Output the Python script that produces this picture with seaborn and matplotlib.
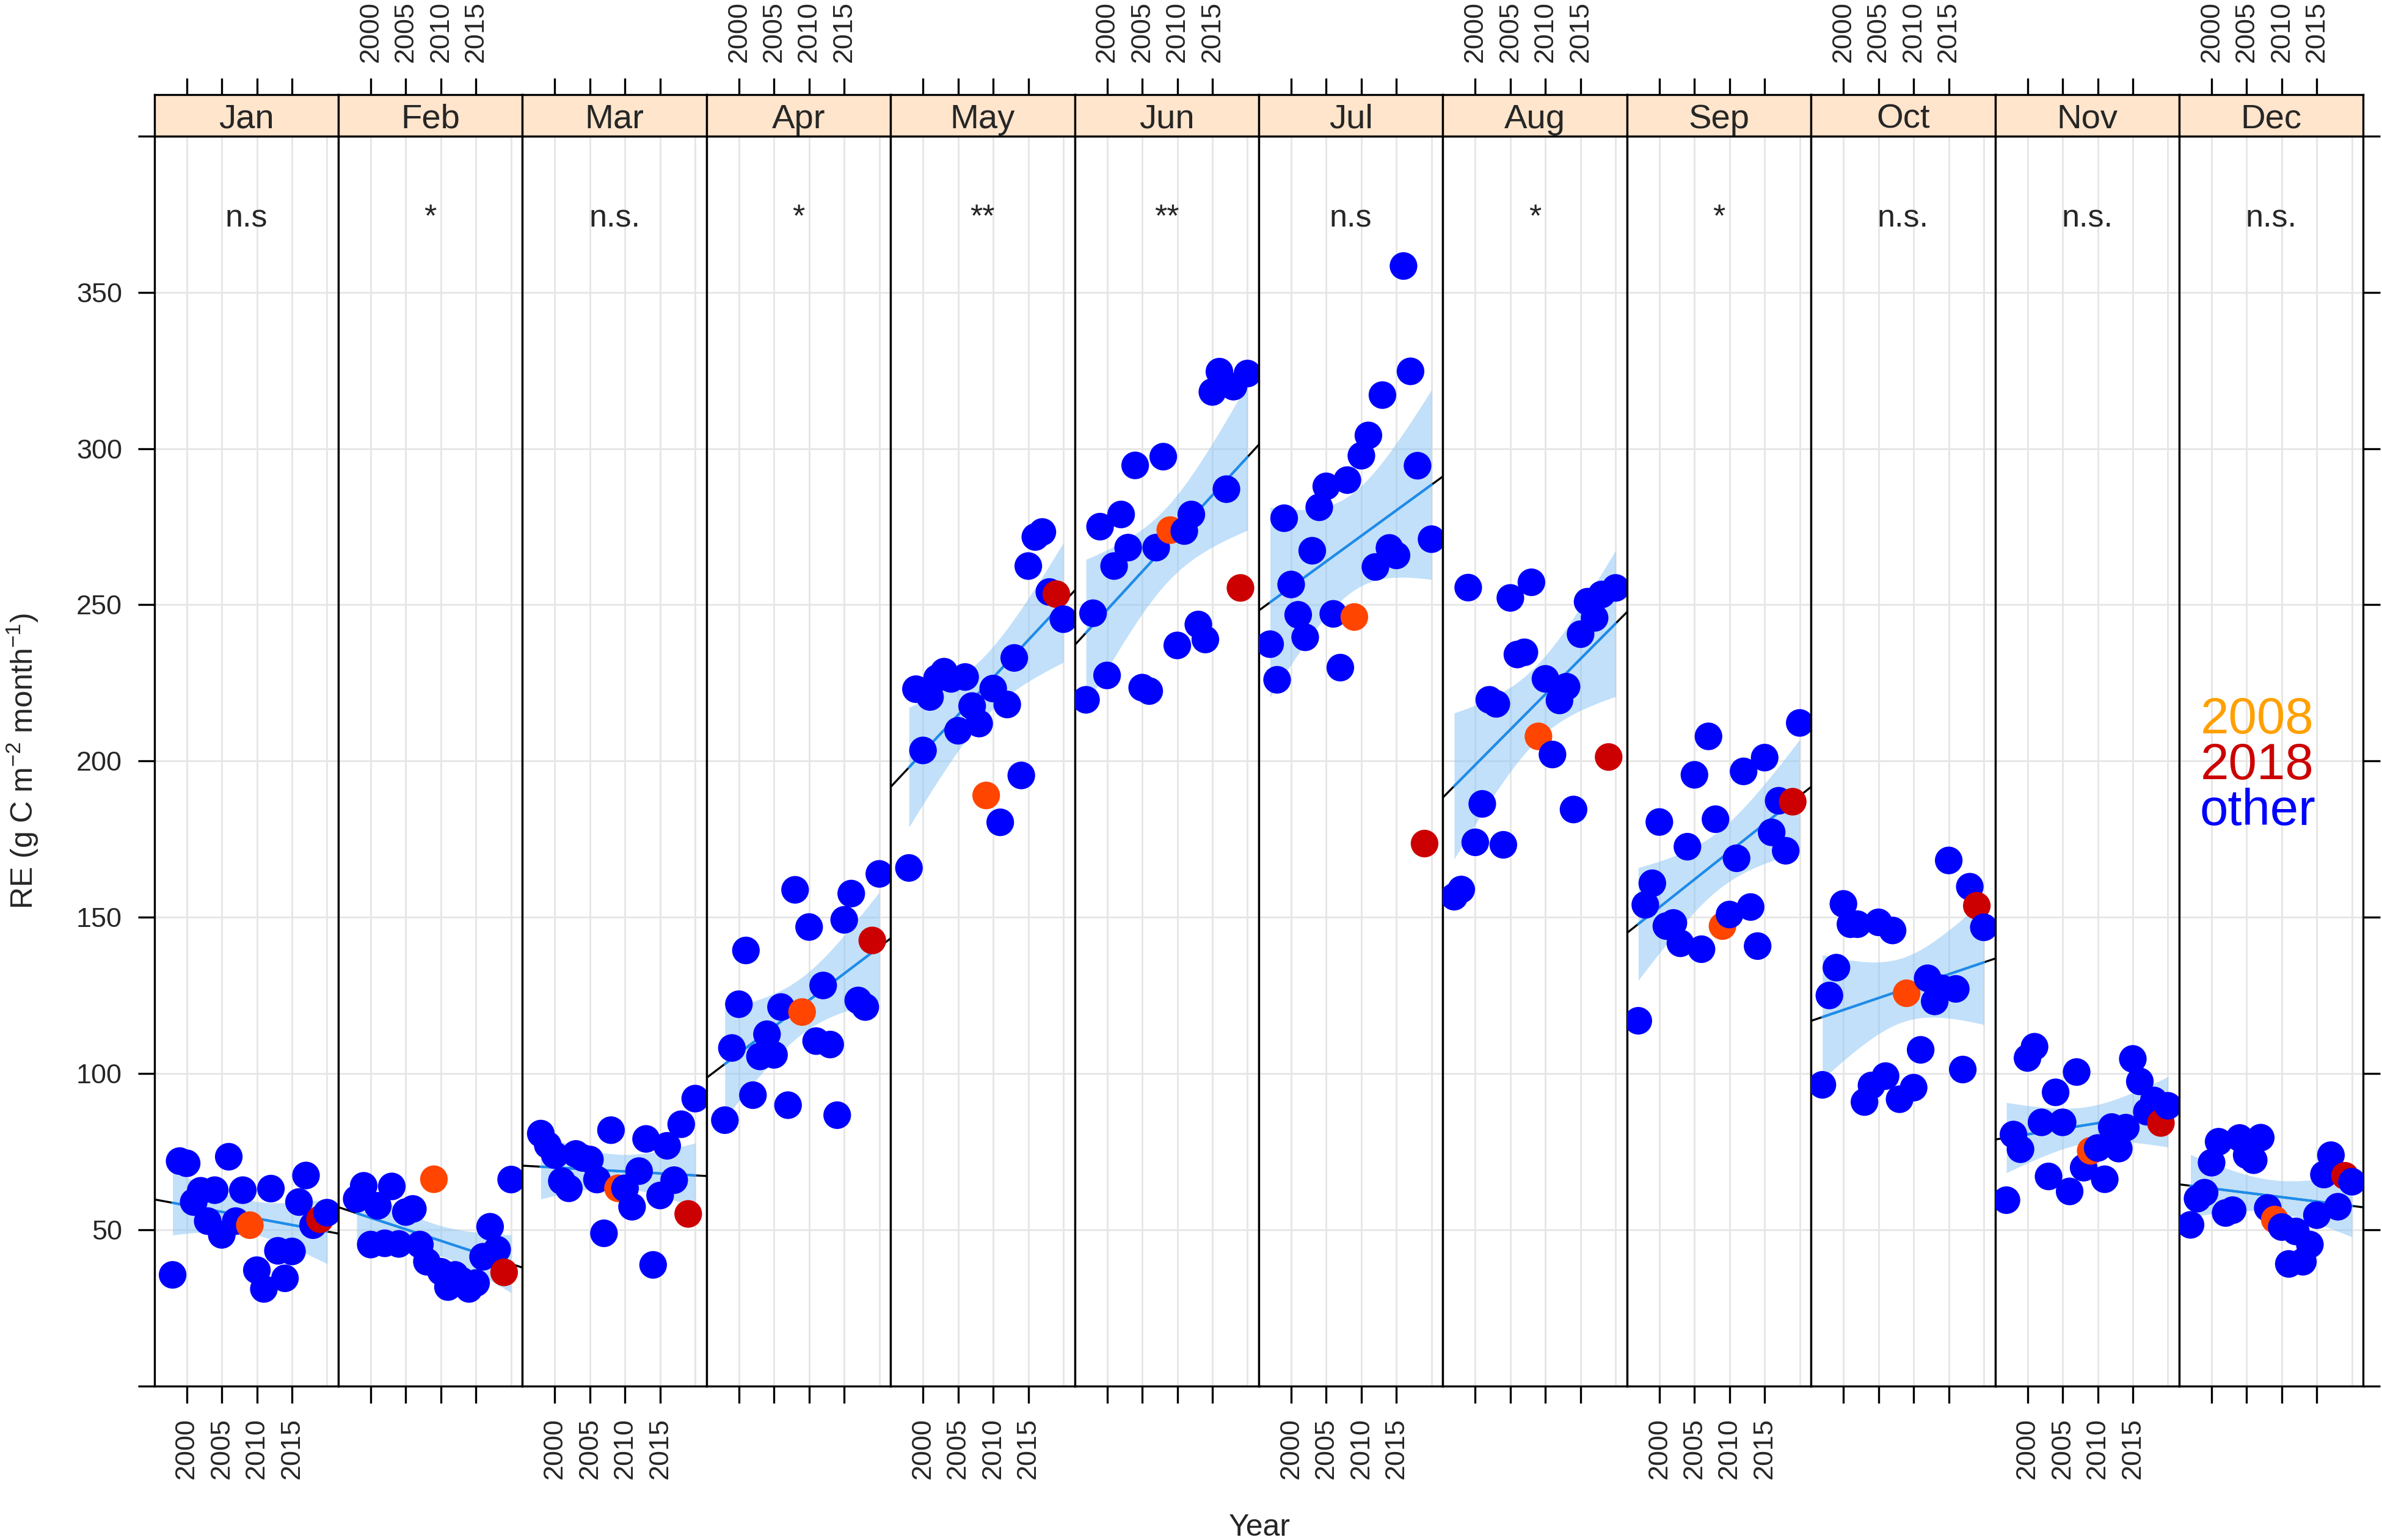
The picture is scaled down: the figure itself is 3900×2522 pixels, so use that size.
import numpy as np
import pandas as pd
import matplotlib
matplotlib.use("Agg")
import matplotlib.pyplot as plt
import seaborn as sns

# slot on the year axis for each value (source puts 2008 / 2018 one slot right)
years = np.arange(1997, 2021)
x_2008 = 2009
x_2018 = 2019

months = ["Jan", "Feb", "Mar", "Apr", "May", "Jun",
          "Jul", "Aug", "Sep", "Oct", "Nov", "Dec"]
signif = ["n.s", "*", "n.s.", "*", "**", "**",
          "n.s", "*", "*", "n.s.", "n.s.", "n.s."]

nan = np.nan
jan = [nan, 35.6, 72.0, 71.3, 58.9, 62.5, 52.8, 62.7, 48.4, 73.4, 52.8, 62.7,
       51.5, 37.1, 31.1, 63.2, 43.3, 34.5, 43.1, 58.9, 67.4, 51.5, 53.4, 55.5]
feb = [nan, 59.9, 64.1, 45.3, 57.7, 45.7, 63.9, 45.5, 55.7, 56.7, 45.3, 39.8,
       66.2, 36.6, 31.7, 35.6, 33.7, 31.1, 33.0, 41.4, 51.0, 43.7, 36.4, 66.1]
mar = [nan, 80.8, 77.1, 73.9, 65.6, 63.3, 74.3, 73.0, 72.5, 66.1, 48.9, 81.9,
       63.3, 63.3, 57.4, 68.8, 79.1, 38.8, 61.0, 76.9, 65.9, 83.8, 55.1, 92.0]
apr = [nan, 85.1, 108.2, 122.2, 139.4, 93.1, 105.5, 112.6, 106.0, 121.3, 89.9, 158.8,
       119.7, 146.9, 110.4, 128.2, 109.3, 86.7, 149.2, 157.6, 123.4, 121.3, 142.6, 163.9]
may = [nan, 165.8, 223.0, 203.4, 220.5, 226.5, 228.6, 226.3, 209.7, 226.9, 217.6, 212.0,
       189.0, 223.2, 180.4, 218.1, 233.0, 195.4, 262.4, 271.7, 273.3, 254.1, 253.4, 245.4]
jun = [219.6, 247.3, 275.0, 227.4, 262.4, 278.9, 268.3, 294.6, 223.5, 222.4, 268.3, 297.4,
       273.9, 237.0, 273.6, 278.9, 243.7, 238.9, 318.1, 324.6, 287.0, 319.8, 255.4, 324.0]
jul = [237.4, 226.0, 277.7, 256.5, 246.8, 239.6, 267.3, 281.2, 287.9, 247.1, 229.9, 289.9,
       246.1, 297.7, 304.2, 262.1, 317.1, 268.2, 265.8, 358.4, 324.7, 294.5, 173.6, 271.0]
aug = [156.6, 158.9, 255.5, 174.0, 186.3, 219.6, 218.3, 173.2, 252.2, 234.1, 234.8, 257.2,
       207.9, 226.3, 202.1, 219.4, 223.8, 184.5, 240.6, 251.0, 245.8, 253.3, 201.3, 255.4]
sep = [116.9, 154.0, 160.9, 180.5, 147.2, 148.2, 141.7, 172.6, 195.6, 139.8, 207.9, 181.4,
       147.2, 150.9, 168.9, 196.7, 153.3, 140.8, 201.1, 177.2, 187.3, 171.3, 187.0, 212.2]
octo = [96.4, 125.0, 133.9, 154.3, 147.8, 147.8, 90.9, 96.2, 148.4, 99.2, 145.8, 91.8,
        125.7, 95.5, 107.6, 130.5, 123.1, 127.3, 168.2, 127.1, 101.3, 159.8, 153.7, 146.8]
nov = [59.5, 80.5, 75.8, 105.0, 108.6, 84.4, 67.1, 94.0, 84.4, 62.3, 100.5, 69.9,
       75.3, 76.2, 66.2, 82.9, 76.0, 82.7, 104.7, 97.5, 87.8, 91.4, 84.2, 89.7]
dec = [51.6, 60.0, 61.9, 71.5, 78.2, 55.4, 56.3, 79.4, 73.9, 72.3, 79.5, 57.0,
       53.3, 50.9, 39.1, 49.5, 39.8, 45.3, 54.7, 67.7, 73.9, 57.4, 67.3, 65.4]
re_month = [jan, feb, mar, apr, may, jun, jul, aug, sep, octo, nov, dec]

x_ticks = [2000, 2005, 2010, 2015]
x_grid = [2000, 2005, 2010, 2015, 2020]
y_ticks = [0, 50, 100, 150, 200, 250, 300, 350, 400]
y_grid = [50, 100, 150, 200, 250, 300, 350]

pal = {"2008": "#FF4500", "2018": "#CC0000", "other": "#0000FF"}
# t quantiles (0.975) for the confidence band
t975 = {21: 2.0796, 22: 2.0739}

sns.set_theme(style="white")
plt.rcParams["font.family"] = ["Liberation Sans", "DejaVu Sans"]
plt.rcParams["mathtext.fontset"] = "custom"
plt.rcParams["mathtext.rm"] = "Liberation Sans"
plt.rcParams["mathtext.it"] = "Liberation Sans:italic"

W, H = 3900, 2522
fig = plt.figure(figsize=(W / 300, H / 300), dpi=300)

left_px, panel_w = 252.6, 301.4
strip_top, panel_top, panel_bot = 155.0, 222.7, 2270.0

pad = 0.07 * (years.max() - years.min())
xlim = (years.min() - pad, years.max() + pad)

for i, m in enumerate(months):
    x0 = (left_px + i * panel_w) / W
    ax = fig.add_axes([x0, 1 - panel_bot / H, panel_w / W, (panel_bot - panel_top) / H])
    sax = fig.add_axes([x0, 1 - panel_top / H, panel_w / W, (panel_top - strip_top) / H],
                       sharex=ax)

    y = np.array(re_month[i], dtype=float)
    ok = ~np.isnan(y)
    group = np.where(years == x_2008, "2008", np.where(years == x_2018, "2018", "other"))
    df = pd.DataFrame({"year": years[ok], "re": y[ok], "group": group[ok]})

    for gx in x_grid:
        ax.axvline(gx, color="#E6E6E6", lw=0.7, zorder=0)
    for gy in y_grid:
        ax.axhline(gy, color="#E6E6E6", lw=0.7, zorder=0)

    # linear fit with 95% confidence band
    xs, ys = df["year"].to_numpy(float), df["re"].to_numpy(float)
    n = len(xs)
    b, a = np.polyfit(xs, ys, 1)
    res = ys - (a + b * xs)
    s = np.sqrt(res @ res / (n - 2))
    xg = np.linspace(xs.min(), xs.max(), 120)
    se = s * np.sqrt(1 / n + (xg - xs.mean()) ** 2 / ((xs - xs.mean()) ** 2).sum())
    fit = a + b * xg
    ax.fill_between(xg, fit - t975[n - 2] * se, fit + t975[n - 2] * se,
                    color="#87C3F5", alpha=0.5, lw=0, zorder=1)
    xl = np.array(xlim)
    sns.lineplot(x=xl, y=a + b * xl, color="black", lw=0.8, ax=ax, zorder=2)
    sns.lineplot(x=xg, y=fit, color="#1E8CEB", lw=1.0, ax=ax, zorder=3)

    sns.scatterplot(data=df, x="year", y="re", hue="group", palette=pal, s=118,
                    linewidth=0, legend=False, ax=ax, zorder=4)

    ax.text(np.mean(xlim), 371, signif[i], ha="center", va="baseline", fontsize=12.5)

    ax.set_xlim(xlim)
    ax.set_ylim(0, 400)
    ax.set_xlabel("")
    ax.set_ylabel("")
    ax.set_xticks(x_ticks)
    ax.set_xticklabels([str(t) for t in x_ticks], rotation=90)
    ax.tick_params(axis="x", bottom=True, top=False, direction="out", length=6.6,
                   width=0.8, pad=6, labelsize=10.8, labelbottom=(i % 2 == 0), color="black")
    ax.set_yticks(y_ticks)
    ax.set_yticklabels(["" if t in (0, 400) else str(t) for t in y_ticks])
    ax.tick_params(axis="y", left=(i == 0), right=(i == 11), direction="out", length=6.6,
                   width=0.8, pad=6, labelsize=10.8, labelleft=(i == 0),
                   labelright=False, color="black")
    for sp in ax.spines.values():
        sp.set_color("black")
        sp.set_linewidth(0.8)

    sax.set_facecolor("#FFE5CC")
    sax.set_ylim(0, 1)
    sax.set_yticks([])
    sax.tick_params(axis="x", bottom=False, top=True, direction="out", length=6.6,
                    width=0.8, pad=6, labelsize=10.8, labelbottom=False,
                    labeltop=(i % 2 == 1), labelrotation=90, color="black")
    for sp in sax.spines.values():
        sp.set_color("black")
        sp.set_linewidth(0.8)
    sax.text(0.5, 0.19, m, transform=sax.transAxes, ha="center", va="baseline",
             fontsize=13.5)

fig.text(0.0095, 1 - 1246 / H, r"RE (g C m$^{-2}$ month$^{-1}$)", rotation=90,
         ha="center", va="center", fontsize=12)
fig.text(0.5287, 1 - 2515 / H, "Year", ha="center", va="baseline", fontsize=12)

fig.text(3696 / W, 1 - 1201 / H, "2008", color="#FFA000", ha="center", va="baseline", fontsize=20)
fig.text(3696 / W, 1 - 1276 / H, "2018", color="#CC0000", ha="center", va="baseline", fontsize=20)
fig.text(3696 / W, 1 - 1351 / H, "other", color="#0000FF", ha="center", va="baseline", fontsize=20)

fig.savefig("out.png", dpi=300)
